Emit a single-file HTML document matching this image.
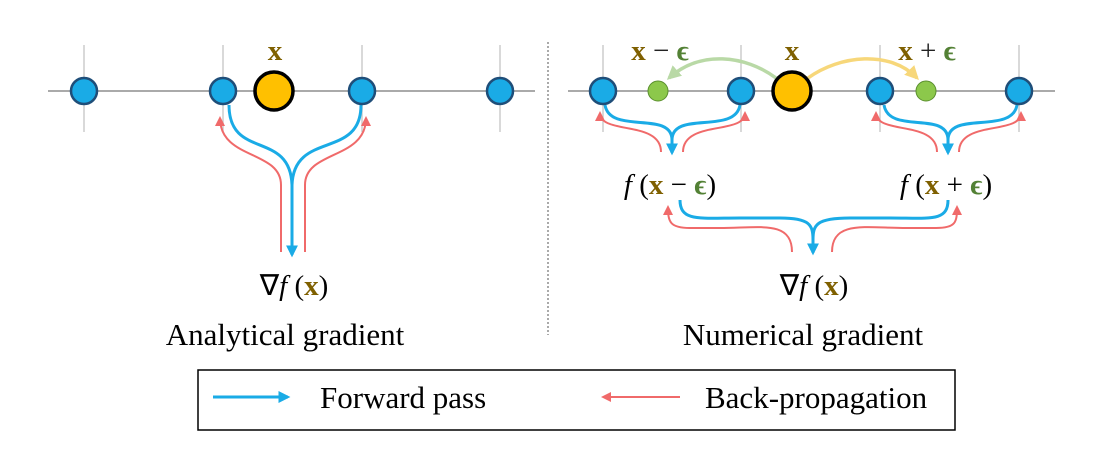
<!DOCTYPE html>
<html><head><meta charset="utf-8"><style>
html,body{margin:0;padding:0;background:#fff;}
svg{display:block;}
text{font-family:"Liberation Serif",serif;}
</style></head><body>
<svg width="1102" height="470" viewBox="0 0 1102 470" xmlns="http://www.w3.org/2000/svg">
<defs>
<marker id="bA" viewBox="0 0 10 10" refX="8" refY="5" markerWidth="4" markerHeight="4" orient="auto"><path d="M0,0L10,5L0,10z" fill="#1aabe6"/></marker>
<marker id="rA" viewBox="0 0 10 10" refX="8" refY="5" markerWidth="5" markerHeight="5" orient="auto"><path d="M0,0L10,5L0,10z" fill="#f06a6a"/></marker>
<marker id="gA" viewBox="0 0 10 10" refX="8" refY="5" markerWidth="4" markerHeight="4" orient="auto"><path d="M0,0L10,5L0,10z" fill="#b9d9a6"/></marker>
<marker id="yA" viewBox="0 0 10 10" refX="8" refY="5" markerWidth="4" markerHeight="4" orient="auto"><path d="M0,0L10,5L0,10z" fill="#f7d77a"/></marker>
</defs>
<g stroke="#ccc" stroke-width="1.5">
<line x1="84" y1="45" x2="84" y2="132"/><line x1="223" y1="45" x2="223" y2="132"/><line x1="362" y1="45" x2="362" y2="132"/><line x1="500" y1="45" x2="500" y2="132"/>
<line x1="603" y1="45" x2="603" y2="132"/><line x1="741" y1="45" x2="741" y2="132"/><line x1="880" y1="45" x2="880" y2="132"/><line x1="1019" y1="45" x2="1019" y2="132"/>
</g>
<line x1="48" y1="91" x2="535" y2="91" stroke="#aaa" stroke-width="2"/>
<line x1="568" y1="91" x2="1055" y2="91" stroke="#aaa" stroke-width="2"/>
<line x1="548" y1="42" x2="548" y2="335" stroke="#555" stroke-width="1" stroke-dasharray="2,2"/>
<g fill="none" stroke-width="3">
<path d="M229,105 C229,160 290,130 292,185 L292,255" stroke="#1aabe6" marker-end="url(#bA)"/>
<path d="M361,105 C361,160 294,130 292,185" stroke="#1aabe6"/>
</g>
<g fill="none" stroke-width="2" stroke="#f06a6a">
<path d="M281,252 L281,185 C281,150 220,160 220,118" marker-end="url(#rA)"/>
<path d="M305,252 L305,185 C305,150 366,160 366,118" marker-end="url(#rA)"/>
</g>
<g fill="none" stroke-width="3" stroke="#1aabe6">
<path d="M605,105 C610,135 672,110 672,140 L672,153" marker-end="url(#bA)"/>
<path d="M740,105 C735,135 672,110 672,140"/>
<path d="M884,105 C889,135 948,110 948,140 L948,153" marker-end="url(#bA)"/>
<path d="M1017,105 C1012,135 948,110 948,140"/>
<path d="M680,200 C680,222 700,218 740,218 L780,218 C810,218 813,225 813,240 L813,253" marker-end="url(#bA)"/>
<path d="M948,200 C948,222 930,218 890,218 L850,218 C816,218 813,225 813,240"/>
</g>
<g fill="none" stroke-width="2" stroke="#f06a6a">
<path d="M661,152 C661,120 600,135 600,113" marker-end="url(#rA)"/>
<path d="M683,152 C683,120 745,135 745,113" marker-end="url(#rA)"/>
<path d="M937,152 C937,120 876,135 876,113" marker-end="url(#rA)"/>
<path d="M959,152 C959,120 1021,135 1021,113" marker-end="url(#rA)"/>
<path d="M792,252 C792,220 760,228 720,228 L690,228 C670,228 668,222 668,207" marker-end="url(#rA)"/>
<path d="M832,252 C832,220 866,228 906,228 L936,228 C956,228 957,222 957,207" marker-end="url(#rA)"/>
</g>
<path d="M776,78 C745,55 700,50 669,78" fill="none" stroke="#b9d9a6" stroke-width="3.5" marker-end="url(#gA)"/>
<path d="M808,78 C840,55 890,50 917,78" fill="none" stroke="#f7d77a" stroke-width="3.5" marker-end="url(#yA)"/>
<g fill="#1aabe6" stroke="#1f4e79" stroke-width="2.5">
<circle cx="84" cy="91" r="13"/><circle cx="223" cy="91" r="13"/><circle cx="362" cy="91" r="13"/><circle cx="500" cy="91" r="13"/>
<circle cx="603" cy="91" r="13"/><circle cx="741" cy="91" r="13"/><circle cx="880" cy="91" r="13"/><circle cx="1019" cy="91" r="13"/>
</g>
<g fill="#8cc84b" stroke="#5a8f2e" stroke-width="1">
<circle cx="658" cy="91" r="10"/><circle cx="926" cy="91" r="10"/>
</g>
<g fill="#ffc000" stroke="#000" stroke-width="3.5">
<circle cx="274" cy="91" r="19"/><circle cx="792" cy="91" r="19"/>
</g>
<g font-size="29" text-anchor="middle">
<text x="275" y="60" fill="#7f6000" font-weight="bold">x</text>
<text x="792" y="60" fill="#7f6000" font-weight="bold">x</text>
<text x="660" y="60"><tspan fill="#7f6000" font-weight="bold">x</tspan><tspan fill="#222"> − </tspan><tspan fill="#538135" font-weight="bold">ϵ</tspan></text>
<text x="927" y="60"><tspan fill="#7f6000" font-weight="bold">x</tspan><tspan fill="#222"> + </tspan><tspan fill="#538135" font-weight="bold">ϵ</tspan></text>
<text x="670" y="194" fill="#000"><tspan font-style="italic">f </tspan>(<tspan fill="#7f6000" font-weight="bold">x</tspan> − <tspan fill="#538135" font-weight="bold">ϵ</tspan>)</text>
<text x="946" y="194" fill="#000"><tspan font-style="italic">f </tspan>(<tspan fill="#7f6000" font-weight="bold">x</tspan> + <tspan fill="#538135" font-weight="bold">ϵ</tspan>)</text>
<text x="294" y="295" fill="#000">∇<tspan font-style="italic">f </tspan>(<tspan fill="#7f6000" font-weight="bold">x</tspan>)</text>
<text x="814" y="295" fill="#000">∇<tspan font-style="italic">f </tspan>(<tspan fill="#7f6000" font-weight="bold">x</tspan>)</text>
<text x="285" y="345" fill="#000" font-size="31">Analytical gradient</text>
<text x="803" y="345" fill="#000" font-size="31">Numerical gradient</text>
</g>
<rect x="198" y="370" width="757" height="60" fill="none" stroke="#000" stroke-width="1.5"/>
<line x1="213" y1="397" x2="288" y2="397" stroke="#1aabe6" stroke-width="3" marker-end="url(#bA)"/>
<line x1="680" y1="397" x2="603" y2="397" stroke="#f06a6a" stroke-width="2" marker-end="url(#rA)"/>
<text x="320" y="408" font-size="31">Forward pass</text>
<text x="705" y="408" font-size="31">Back-propagation</text>
</svg>
</body></html>
